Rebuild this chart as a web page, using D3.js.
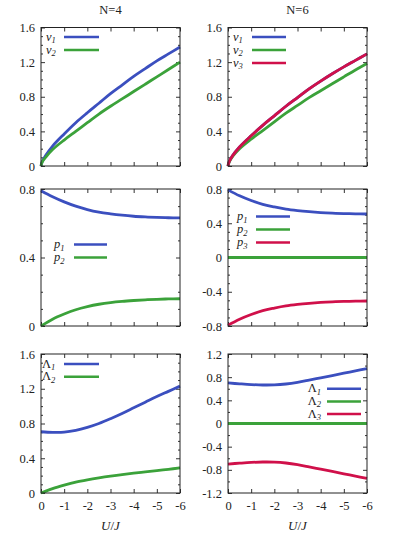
<!DOCTYPE html>
<html lang="en">
<head>
<meta charset="UTF-8">
<title>Order parameters vs U/J</title>
<script src="https://d3js.org/d3.v7.min.js"></script>
<style>
  body { margin: 0; background: #fff; }
  svg { display: block; font-family: "Liberation Serif", "DejaVu Serif", serif; }
  .tick text { font-size: 12.5px; fill: #222; font-family: "Liberation Serif", "DejaVu Serif", serif; }
  .tick line { stroke: #333; }
</style>
</head>
<body>
<div class="chart"></div>
<script>
// ---- data ----
const uFine = [0, -0.05, -0.2, -0.5, -1, -1.5, -2, -2.5, -3, -3.5, -4, -4.5, -5, -5.5, -6];
const uGrid = [0, -0.5, -1, -1.5, -2, -2.5, -3, -3.5, -4, -4.5, -5, -5.5, -6];
const xTicks = [0, -1, -2, -3, -4, -5, -6];

// row 1: v_i
const v1N4 = [0, 0.05, 0.12, 0.23, 0.37, 0.50, 0.615, 0.725, 0.835, 0.935, 1.035, 1.125, 1.215, 1.295, 1.375];
const v2N4 = [0, 0.045, 0.10, 0.19, 0.30, 0.40, 0.50, 0.60, 0.69, 0.775, 0.86, 0.945, 1.03, 1.115, 1.20];
const v1N6 = [0, 0.05, 0.12, 0.22, 0.35, 0.47, 0.58, 0.69, 0.79, 0.89, 0.98, 1.065, 1.145, 1.22, 1.295];
const v2N6 = [0, 0.045, 0.11, 0.20, 0.31, 0.41, 0.51, 0.61, 0.70, 0.79, 0.87, 0.95, 1.03, 1.11, 1.185];
const v3N6 = [0, 0.05, 0.12, 0.22, 0.35, 0.47, 0.58, 0.69, 0.79, 0.89, 0.98, 1.065, 1.145, 1.22, 1.295];

// row 2: p_i
const p1N4 = [0.79, 0.755, 0.725, 0.70, 0.68, 0.665, 0.655, 0.647, 0.641, 0.637, 0.634, 0.632, 0.631];
const p2N4 = [0, 0.04, 0.07, 0.095, 0.113, 0.127, 0.137, 0.144, 0.149, 0.153, 0.156, 0.158, 0.159];
const p1N6 = [0.79, 0.72, 0.665, 0.62, 0.59, 0.565, 0.548, 0.535, 0.525, 0.518, 0.513, 0.51, 0.508];
const p2N6 = [0, 0, 0, 0, 0, 0, 0, 0, 0, 0, 0, 0, 0];
const p3N6 = [-0.79, -0.72, -0.665, -0.62, -0.59, -0.565, -0.548, -0.535, -0.525, -0.518, -0.513, -0.51, -0.508];

// row 3: Lambda_i
const L1N4 = [0.705, 0.698, 0.700, 0.72, 0.755, 0.80, 0.855, 0.915, 0.98, 1.045, 1.11, 1.17, 1.23];
const L2N4 = [0, 0.05, 0.09, 0.125, 0.152, 0.175, 0.195, 0.212, 0.228, 0.243, 0.258, 0.273, 0.288];
const L1N6 = [0.70, 0.685, 0.672, 0.665, 0.667, 0.682, 0.71, 0.748, 0.788, 0.828, 0.868, 0.908, 0.948];
const L2N6 = [0, 0, 0, 0, 0, 0, 0, 0, 0, 0, 0, 0, 0];
const L3N6 = [-0.70, -0.685, -0.672, -0.665, -0.667, -0.682, -0.71, -0.748, -0.788, -0.828, -0.868, -0.908, -0.948];

const titles = ["N=4", "N=6"];
const colors = ["#3b4fbf", "#3ba23a", "#d0104a"];

// ---- layout ----
const W = 415, H = 554;
const cols = [[41, 180], [228, 367]];
const rows = [[27.5, 166], [189, 326], [354, 493]];

const svg = d3.select(".chart").append("svg")
  .attr("width", W).attr("height", H);

const panels = [
  { r: 0, c: 0, u: uFine, dom: [0, 1.6], major: 0.4, minor: 0.1, sym: "v", series: [v1N4, v2N4],
    key: { x0: 64, x1: 99, y: 37, dy: 13, align: "left", tx: 46 } },
  { r: 0, c: 1, u: uFine, dom: [0, 1.6], major: 0.4, minor: 0.1, sym: "v", series: [v1N6, v2N6, v3N6],
    key: { x0: 252, x1: 286, y: 37, dy: 13, align: "left", tx: 233 } },
  { r: 1, c: 0, u: uGrid, dom: [0, 0.8], major: 0.4, minor: 0.1, sym: "p", series: [p1N4, p2N4],
    key: { x0: 74, x1: 107, y: 244.5, dy: 13, align: "left", tx: 54 } },
  { r: 1, c: 1, u: uGrid, dom: [-0.8, 0.8], major: 0.4, minor: 0.1, sym: "p", series: [p1N6, p2N6, p3N6],
    key: { x0: 256, x1: 290, y: 216.5, dy: 13, align: "left", tx: 237 } },
  { r: 2, c: 0, u: uGrid, dom: [0, 1.6], major: 0.4, minor: 0.1, sym: "\u039B", series: [L1N4, L2N4],
    key: { x0: 64, x1: 99, y: 364, dy: 12.7, align: "left", tx: 42 } },
  { r: 2, c: 1, u: uGrid, dom: [-1.2, 1.2], major: 0.4, minor: 0.2, sym: "\u039B", series: [L1N6, L2N6, L3N6],
    key: { x0: 327, x1: 361, y: 388.7, dy: 12.7, align: "right", tx: 321 } }
];

const fmtY = d => Math.abs(d) < 1e-9 ? "0" : d3.format(".1f")(d).replace("\u2212", "-");
const fmtX = d => d === 0 ? "0" : String(d).replace("\u2212", "-");

function range(a, b, s) {
  const out = [];
  const n = Math.round((b - a) / s);
  for (let i = 0; i <= n; i++) out.push(+(a + i * s).toFixed(6));
  return out;
}

panels.forEach(p => {
  const [x0, x1] = cols[p.c];
  const [y0, y1] = rows[p.r];
  const x = d3.scaleLinear().domain([0, -6]).range([x0, x1]);
  const y = d3.scaleLinear().domain(p.dom).range([y1, y0]);
  const g = svg.append("g");

  const majors = range(p.dom[0], p.dom[1], p.major);
  const minors = range(p.dom[0], p.dom[1], p.minor).filter(v => !majors.some(m => Math.abs(m - v) < 1e-6));
  const isBottom = p.r === 2;

  // y axis left (labels) + minor ticks, mirrored on the right
  g.append("g").attr("transform", `translate(${x0},0)`)
    .call(d3.axisLeft(y).tickValues(majors).tickFormat(fmtY).tickSize(-4).tickPadding(6))
    .call(a => a.select(".domain").remove());
  g.append("g").attr("transform", `translate(${x0},0)`)
    .call(d3.axisLeft(y).tickValues(minors).tickFormat("").tickSize(-2))
    .call(a => a.select(".domain").remove());
  g.append("g").attr("transform", `translate(${x1},0)`)
    .call(d3.axisRight(y).tickValues(majors).tickFormat("").tickSize(-4))
    .call(a => a.select(".domain").remove());
  g.append("g").attr("transform", `translate(${x1},0)`)
    .call(d3.axisRight(y).tickValues(minors).tickFormat("").tickSize(-2))
    .call(a => a.select(".domain").remove());

  // x axis bottom + top mirror
  g.append("g").attr("transform", `translate(0,${y1})`)
    .call(d3.axisBottom(x).tickValues(xTicks).tickFormat(isBottom ? fmtX : "").tickSize(-4).tickPadding(8))
    .call(a => a.select(".domain").remove());
  g.append("g").attr("transform", `translate(0,${y0})`)
    .call(d3.axisTop(x).tickValues(xTicks).tickFormat("").tickSize(-4))
    .call(a => a.select(".domain").remove());

  // curves
  const line = d3.line()
    .x((d, i) => x(p.u[i]))
    .y(d => y(d))
    .curve(d3.curveCatmullRom.alpha(0.5));
  p.series.forEach((s, i) => {
    g.append("path").datum(s)
      .attr("d", line)
      .attr("fill", "none")
      .attr("stroke", colors[i])
      .attr("stroke-width", 2.8);
  });

  // frame
  g.append("rect")
    .attr("x", x0).attr("y", y0)
    .attr("width", x1 - x0).attr("height", y1 - y0)
    .attr("fill", "none").attr("stroke", "#222").attr("stroke-width", 1);

  // key
  const k = p.key;
  p.series.forEach((s, i) => {
    const ky = k.y + i * k.dy;
    g.append("line")
      .attr("x1", k.x0).attr("x2", k.x1).attr("y1", ky).attr("y2", ky)
      .attr("stroke", colors[i]).attr("stroke-width", 2.5);
    const t = g.append("text")
      .attr("x", k.tx).attr("y", ky + 3.5)
      .attr("text-anchor", k.align === "right" ? "end" : "start")
      .attr("font-size", 12.5).attr("fill", "#222");
    t.append("tspan").attr("font-style", p.sym === "\u039B" ? "normal" : "italic").text(p.sym);
    t.append("tspan").attr("font-style", "italic").attr("font-size", 8.5).attr("dy", 2.5).text(i + 1);
  });
});

// column titles
titles.forEach((t, c) => {
  svg.append("text")
    .attr("x", (cols[c][0] + cols[c][1]) / 2).attr("y", 14)
    .attr("text-anchor", "middle").attr("font-size", 12.5).attr("fill", "#222")
    .text(t);
});

// x axis title
cols.forEach(c => {
  const t = svg.append("text")
    .attr("x", (c[0] + c[1]) / 2).attr("y", 530)
    .attr("text-anchor", "middle").attr("font-size", 13).attr("fill", "#222")
    .attr("font-style", "italic");
  t.append("tspan").text("U");
  t.append("tspan").attr("font-style", "normal").text("/");
  t.append("tspan").text("J");
});
</script>
</body>
</html>
